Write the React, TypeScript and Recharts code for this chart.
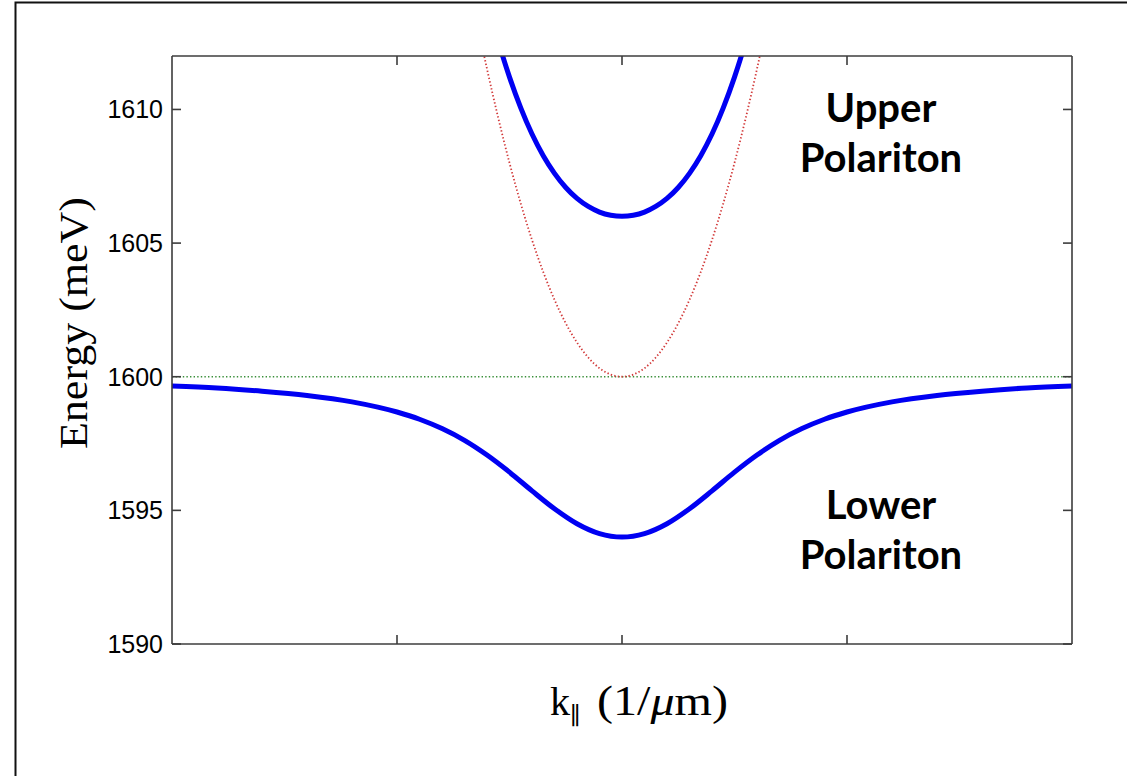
import React from "react";
import { LineChart, Line, XAxis, YAxis, ReferenceLine } from "recharts";

// In-plane wavevector samples (1/µm)
const kLower = [-2, -1.8, -1.6, -1.4, -1.2, -1, -0.9, -0.8, -0.7, -0.6, -0.5, -0.4, -0.3, -0.2, -0.1, 0,
  0.1, 0.2, 0.3, 0.4, 0.5, 0.6, 0.7, 0.8, 0.9, 1, 1.2, 1.4, 1.6, 1.8, 2];
// Lower polariton branch energy (meV)
const lowerEnergy = [1599.65, 1599.58, 1599.46, 1599.3, 1599.06, 1598.68, 1598.41, 1598.06, 1597.62, 1597.07,
  1596.43, 1595.73, 1595.06, 1594.5, 1594.13, 1594.0,
  1594.13, 1594.5, 1595.06, 1595.73, 1596.43, 1597.07, 1597.62, 1598.06, 1598.41, 1598.68,
  1599.06, 1599.3, 1599.46, 1599.58, 1599.65];

const kUpper = [-0.7, -0.65, -0.6, -0.55, -0.5, -0.45, -0.4, -0.35, -0.3, -0.25, -0.2, -0.15, -0.1, -0.05, 0,
  0.05, 0.1, 0.15, 0.2, 0.25, 0.3, 0.35, 0.4, 0.45, 0.5, 0.55, 0.6, 0.65, 0.7];
// Upper polariton branch energy (meV)
const upperEnergy = [1617.71, 1615.8, 1614.08, 1612.55, 1611.21, 1610.06, 1609.08, 1608.27, 1607.61, 1607.08,
  1606.67, 1606.37, 1606.16, 1606.04, 1606.0,
  1606.04, 1606.16, 1606.37, 1606.67, 1607.08, 1607.61, 1608.27, 1609.08, 1610.06, 1611.21,
  1612.55, 1614.08, 1615.8, 1617.71];
// Bare cavity photon dispersion (meV)
const photonEnergy = [1615.68, 1613.52, 1611.52, 1609.68, 1608.0, 1606.48, 1605.12, 1603.92, 1602.88, 1602.0,
  1601.28, 1600.72, 1600.32, 1600.08, 1600.0,
  1600.08, 1600.32, 1600.72, 1601.28, 1602.0, 1602.88, 1603.92, 1605.12, 1606.48, 1608.0,
  1609.68, 1611.52, 1613.52, 1615.68];
// Bare exciton energy (meV)
const excitonEnergy = 1600;

const yTicks = [1590, 1595, 1600, 1605, 1610];
const xTicks = [-1, 0, 1];
const yDomain: [number, number] = [1590, 1612];
const xDomain: [number, number] = [-2, 2];

const lowerData = kLower.map((k, i) => ({ k, e: lowerEnergy[i] }));
const upperData = kUpper.map((k, i) => ({ k, e: upperEnergy[i] }));
const photonData = kUpper.map((k, i) => ({ k, e: photonEnergy[i] }));

const AXIS = "#3c3c3c";
const SERIF = "'Liberation Serif', 'DejaVu Serif', serif";
const blank = () => "";

export default function App() {
  return (
    <div style={{ position: "absolute", left: 0, top: 0, width: 1127, height: 776, background: "#fff" }}>
      <LineChart
        width={1127}
        height={776}
        margin={{ top: 46, right: 45, bottom: 102, left: 72 }}
      >
        <XAxis
          xAxisId="b"
          dataKey="k"
          type="number"
          domain={xDomain}
          ticks={xTicks}
          allowDataOverflow
          height={30}
          tickSize={-9}
          tickFormatter={blank}
          axisLine={{ stroke: AXIS, strokeWidth: 1.6 }}
          tickLine={{ stroke: AXIS, strokeWidth: 1.6 }}
        />
        <XAxis
          xAxisId="t"
          orientation="top"
          dataKey="k"
          type="number"
          domain={xDomain}
          ticks={xTicks}
          allowDataOverflow
          height={10}
          tickSize={-9}
          tickFormatter={blank}
          axisLine={{ stroke: AXIS, strokeWidth: 1.6 }}
          tickLine={{ stroke: AXIS, strokeWidth: 1.6 }}
        />
        <YAxis
          yAxisId="l"
          type="number"
          domain={yDomain}
          ticks={yTicks}
          allowDataOverflow
          width={100}
          tickSize={-9}
          tickMargin={18}
          tick={{ fill: "#000", fontSize: 25, fontFamily: "'Liberation Sans', Arial, sans-serif" }}
          axisLine={{ stroke: AXIS, strokeWidth: 1.6 }}
          tickLine={{ stroke: AXIS, strokeWidth: 1.6 }}
        />
        <YAxis
          yAxisId="r"
          orientation="right"
          type="number"
          domain={yDomain}
          ticks={yTicks}
          allowDataOverflow
          width={10}
          tickSize={-9}
          tickFormatter={blank}
          axisLine={{ stroke: AXIS, strokeWidth: 1.6 }}
          tickLine={{ stroke: AXIS, strokeWidth: 1.6 }}
        />
        <ReferenceLine
          xAxisId="b"
          yAxisId="l"
          y={excitonEnergy}
          stroke="#3a8f3a"
          strokeWidth={1.6}
          strokeDasharray="1.4 2.2"
        />
        <Line
          xAxisId="b"
          yAxisId="l"
          data={photonData}
          dataKey="e"
          type="monotone"
          stroke="#d23a3a"
          strokeWidth={1.8}
          strokeDasharray="1.4 2.2"
          dot={false}
          activeDot={false}
          isAnimationActive={false}
        />
        <Line
          xAxisId="b"
          yAxisId="l"
          data={upperData}
          dataKey="e"
          type="monotone"
          stroke="#0000f2"
          strokeWidth={5}
          dot={false}
          activeDot={false}
          isAnimationActive={false}
        />
        <Line
          xAxisId="b"
          yAxisId="l"
          data={lowerData}
          dataKey="e"
          type="monotone"
          stroke="#0000f2"
          strokeWidth={5}
          dot={false}
          activeDot={false}
          isAnimationActive={false}
        />
      </LineChart>
      <svg
        width={1127}
        height={776}
        style={{ position: "absolute", left: 0, top: 0, pointerEvents: "none" }}
      >
        <path d="M15.5 780 L15.5 2.5 L1140 2.5" fill="none" stroke="#111" strokeWidth={2} />
        <text
          x={87}
          y={323}
          transform="rotate(-90 87 323)"
          textAnchor="middle"
          fontFamily={SERIF}
          fontSize={40}
          textLength={252}
          lengthAdjust="spacingAndGlyphs"
          fill="#000"
        >
          Energy (meV)
        </text>
        <text x={550} y={715} fontFamily={SERIF} fontSize={40} fill="#000">
          k
          <tspan fontSize={24} dy={9}>∥</tspan>
        </text>
        <text
          x={597}
          y={715}
          fontFamily={SERIF}
          fontSize={42}
          textLength={131}
          lengthAdjust="spacingAndGlyphs"
          fill="#000"
        >
          (1/<tspan fontStyle="italic">μ</tspan>m)
        </text>
        <g fontFamily="Lato, 'Open Sans', sans-serif" fontWeight="bold" fontSize={40} fill="#000" textAnchor="middle">
          <text x={881} y={122}>Upper</text>
          <text x={881} y={172}>Polariton</text>
          <text x={881} y={519}>Lower</text>
          <text x={881} y={569}>Polariton</text>
        </g>
      </svg>
    </div>
  );
}
